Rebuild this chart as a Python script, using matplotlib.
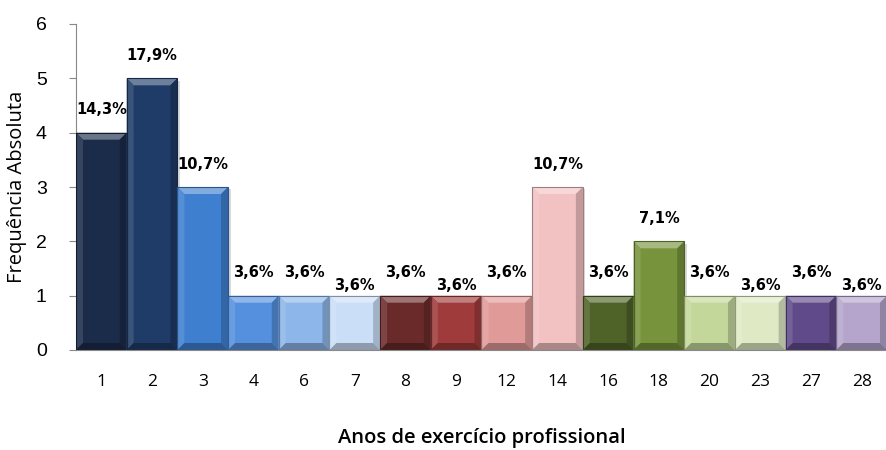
import matplotlib
matplotlib.use("Agg")
import matplotlib.pyplot as plt
import numpy as np
from matplotlib.patches import Polygon
from matplotlib.colors import to_rgb

# Anos de exercício profissional vs frequência absoluta
anos = ["1", "2", "3", "4", "6", "7", "8", "9", "12", "14", "16", "18", "20", "23", "27", "28"]
frequencia = [4, 5, 3, 1, 1, 1, 1, 1, 1, 3, 1, 2, 1, 1, 1, 1]

cores = [
    "#1b2b4a", "#1f3b67", "#3f7fcf", "#5590de",
    "#8db6ea", "#cadef7", "#6a2a2a", "#a03b3b",
    "#e09a98", "#f2c1c1", "#4f6228", "#77933c",
    "#c4d79b", "#dfeac5", "#604a8a", "#b5a5cc",
]
# Excel staggers a few labels lower so they don't collide
label_pad = [11, 11, 11, 11, 11, 2, 11, 2, 11, 11, 11, 11, 11, 2, 11, 2]

total = sum(frequencia)


def mix(c, other, t):
    c = np.array(to_rgb(c))
    return tuple(c + (np.array(other) - c) * t)


fig = plt.figure(figsize=(8.87, 4.5), dpi=100)
ax = fig.add_axes([76 / 887, 100 / 450, 811 / 887, 326 / 450])

x = np.arange(len(anos))
bars = ax.bar(x, frequencia, width=1.0, color=cores, edgecolor="none", zorder=2)

ax.set_xlim(-0.5, len(anos) - 0.5)
ax.set_ylim(0, 6)

# bevel size in pixels converted to data units
bev_px = 7
ux = bev_px / (811 / len(anos))
uy = bev_px / (326 / 6)

for b, c in zip(bars, cores):
    x0, w, h = b.get_x(), b.get_width(), b.get_height()
    x1 = x0 + w
    # drop shadow
    ax.add_patch(Polygon([(x0 + 0.06, 0), (x1 + 0.05, 0), (x1 + 0.05, h - 0.04), (x0 + 0.06, h - 0.04)],
                         closed=True, fc=(0, 0, 0, 0.15), ec="none", zorder=1))
    top = [(x0, h), (x1, h), (x1 - ux, h - uy), (x0 + ux, h - uy)]
    left = [(x0, 0), (x0, h), (x0 + ux, h - uy), (x0 + ux, uy)]
    right = [(x1, 0), (x1, h), (x1 - ux, h - uy), (x1 - ux, uy)]
    bottom = [(x0, 0), (x1, 0), (x1 - ux, uy), (x0 + ux, uy)]
    ax.add_patch(Polygon(top, closed=True, fc=mix(c, (1, 1, 1), 0.35), ec="none", zorder=3))
    ax.add_patch(Polygon(left, closed=True, fc=mix(c, (1, 1, 1), 0.12), ec="none", zorder=3))
    ax.add_patch(Polygon(right, closed=True, fc=mix(c, (0, 0, 0), 0.2), ec="none", zorder=3))
    ax.add_patch(Polygon(bottom, closed=True, fc=mix(c, (0, 0, 0), 0.3), ec="none", zorder=3))
    ax.add_patch(plt.Rectangle((x0, 0), w, h, fc="none", ec=mix(c, (0, 0, 0), 0.35), lw=0.8, zorder=4))

for b, v, pad in zip(bars, frequencia, label_pad):
    pct = f"{v / total * 100:.1f}%".replace(".", ",")
    ax.annotate(pct, (b.get_x() + b.get_width() / 2, v), xytext=(0, pad),
                textcoords="offset points", ha="center", va="bottom",
                fontsize=10.5, fontweight="bold", family="DejaVu Sans", zorder=5)

ax.set_xticks(x)
ax.set_xticklabels(anos, family="Open Sans", fontsize=12.5)
ax.set_yticks(range(7))
ax.set_yticklabels([str(i) for i in range(7)], family="Liberation Sans", fontsize=14)
ax.tick_params(axis="x", length=0, pad=17)
ax.tick_params(axis="y", length=5, color="#888888", pad=16)

for s in ["top", "right"]:
    ax.spines[s].set_visible(False)
ax.spines["left"].set_color("#888888")
ax.spines["bottom"].set_color("#888888")
ax.spines["bottom"].set_zorder(6)

ax.set_xlabel("Anos de exercício profissional", family="Open Sans",
              fontsize=14.5, fontweight="semibold", labelpad=28)
ax.set_ylabel("Frequência Absoluta", family="Open Sans",
              fontsize=14.5, labelpad=6)

fig.savefig("out.png", dpi=100)
